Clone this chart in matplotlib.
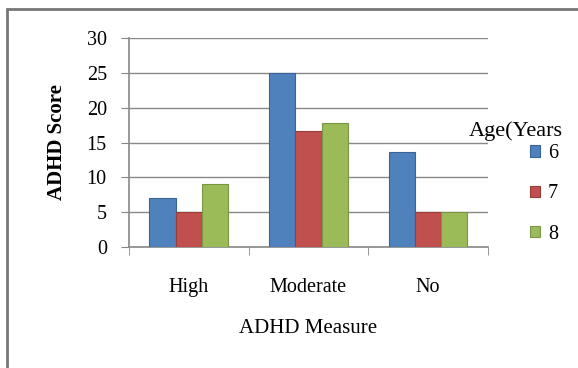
import numpy as np
import matplotlib.pyplot as plt
from matplotlib.patches import Rectangle

categories = ['High', 'Moderate', 'No']
ages = ['6', '7', '8']
age6 = [7, 25, 13.7]
age7 = [5, 16.6, 5]
age8 = [9, 17.8, 5]
yticks = [0, 5, 10, 15, 20, 25, 30]

colors = ['#4F81BD', '#C0504D', '#9BBB59']
edges = ['#3A6496', '#983D3A', '#7A9645']

plt.rcParams['font.family'] = ['Liberation Serif', 'DejaVu Serif']

fig = plt.figure(figsize=(5.78, 3.68), dpi=100)
ax = fig.add_axes([0.2232, 0.3288, 0.6208, 0.5679])

x = np.arange(len(categories))
w = 0.22
for i, vals in enumerate([age6, age7, age8]):
    ax.bar(x + (i - 1) * w, vals, width=w, color=colors[i], edgecolor=edges[i],
           linewidth=0.8, label=ages[i], zorder=3)

ax.set_xlim(-0.5, 2.5)
ax.set_ylim(0, 30)
ax.set_yticks(yticks)
ax.set_xticks(x)
ax.set_xticklabels(categories)
ax.set_xticks([-0.5, 0.5, 1.5, 2.5], minor=True)
ax.tick_params(axis='x', which='major', length=0, pad=22, labelsize=14.5)
ax.tick_params(axis='x', which='minor', length=6, color='#888888', direction='out')
ax.tick_params(axis='y', length=6, color='#888888', labelsize=14.5, pad=10)
ax.grid(axis='y', color='#888888', linewidth=1.0, zorder=0)

for s in ['top', 'right']:
    ax.spines[s].set_visible(False)
for s in ['left', 'bottom']:
    ax.spines[s].set_color('#888888')
    ax.spines[s].set_linewidth(1.2)

ax.set_ylabel('ADHD Score', fontsize=15, fontweight='bold', labelpad=14)
ax.set_xlabel('ADHD Measure', fontsize=15, labelpad=16)

leg = ax.legend(loc='center left', bbox_to_anchor=(1.117, 0.254),
                frameon=False, fontsize=14.5, handlelength=0.5,
                handleheight=0.5, handletextpad=0.4, labelspacing=1.05,
                borderaxespad=0, borderpad=0)
fig.text(469 / 578, 1 - 131 / 368, 'Age(Years', fontsize=16, ha='left', va='center')

# outer chart border
fig.patches.append(Rectangle((7 / 578, -0.1), 1.2, 1 - 8.5 / 368 + 0.1,
                             transform=fig.transFigure, fill=False,
                             edgecolor='#777777', linewidth=2))

fig.savefig('out.png', dpi=100)
